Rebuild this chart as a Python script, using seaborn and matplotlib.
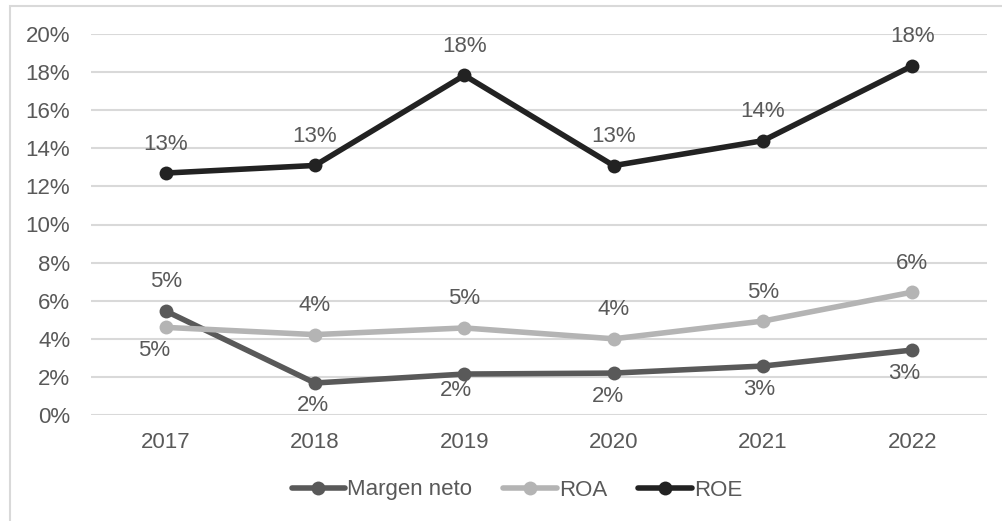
import pandas as pd
import seaborn as sns
import matplotlib.pyplot as plt
from matplotlib.patches import Rectangle
from matplotlib.ticker import FuncFormatter

# datos (en %)
years = ['2017', '2018', '2019', '2020', '2021', '2022']
margen_neto = [5.46, 1.68, 2.15, 2.20, 2.57, 3.41]
roa = [4.60, 4.22, 4.57, 4.00, 4.93, 6.45]
roe = [12.70, 13.10, 17.83, 13.09, 14.40, 18.33]
series_names = ['Margen neto', 'ROA', 'ROE']

df = pd.DataFrame({
    'year': years * 3,
    'value': margen_neto + roa + roe,
    'serie': [s for s in series_names for _ in years],
})

colors = {'Margen neto': '#595959', 'ROA': '#B4B4B4', 'ROE': '#222222'}
text_color = '#595959'

sns.set_theme(style='white')
plt.rcParams['font.family'] = ['Liberation Sans', 'DejaVu Sans']

fig = plt.figure(figsize=(10.03, 5.21), dpi=100)
ax = fig.add_axes([91 / 1003, 1 - 415 / 521, (987 - 91) / 1003, (415 - 34) / 521])

sns.lineplot(data=df, x='year', y='value', hue='serie', palette=colors,
             marker='o', markersize=10, markeredgewidth=0, linewidth=4,
             sort=False, ax=ax, legend=False, zorder=3)

ax.set_xlim(-0.5, 5.5)
ax.set_ylim(0, 20)
ax.set_yticks(range(0, 21, 2))
ax.yaxis.set_major_formatter(FuncFormatter(lambda v, p: f'{v:.0f}%'))
ax.grid(axis='y', color='#D9D9D9', linewidth=1.5, zorder=0)
ax.grid(axis='x', visible=False)
for s in ax.spines.values():
    s.set_visible(False)
ax.tick_params(axis='y', length=0, pad=15, labelsize=16, labelcolor=text_color)
ax.tick_params(axis='x', length=0, pad=12, labelsize=16, labelcolor=text_color)
ax.set_xlabel('')
ax.set_ylabel('')

# etiquetas de datos (desplazamiento en píxeles)
above, below = 29, -23
label_pos = {
    'Margen neto': [(0, above), (-2, below), (-8, -16), (-6, below), (-4, below), (-8, below)],
    'ROA': [(-12, below)] + [(0, above)] * 5,
    'ROE': [(0, above)] * 6,
}
for name, vals in zip(series_names, [margen_neto, roa, roe]):
    for i, v in enumerate(vals):
        dx, dy = label_pos[name][i]
        ax.annotate(f'{v:.0f}%', (i, v), xytext=(dx, dy), textcoords='offset pixels',
                    ha='center', va='center', fontsize=16, color=text_color)

handles = [plt.Line2D([], [], color=colors[n], lw=4, marker='o', ms=10, mew=0)
           for n in series_names]
fig.legend(handles, series_names, loc='center', bbox_to_anchor=(517 / 1003, 1 - 490 / 521),
           ncol=3, frameon=False, fontsize=16, handlelength=2.4, handletextpad=0.1,
           columnspacing=1.4, labelcolor=text_color)

# borde del área del gráfico
fig.add_artist(Rectangle((10 / 1003, -0.1), 1.2, 1 - 6 / 521 + 0.1, transform=fig.transFigure,
                         fill=False, edgecolor='#D9D9D9', linewidth=1.5))

fig.savefig('out.png', dpi=100)
